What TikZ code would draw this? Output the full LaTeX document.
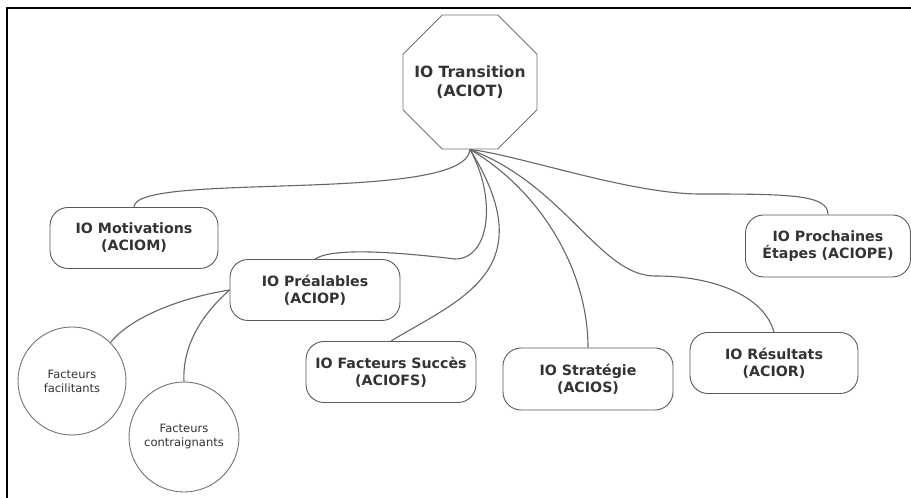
\documentclass[tikz,border=0pt]{standalone}
\usepackage{fontspec}
\setmainfont{DejaVu Sans}
\usetikzlibrary{shapes.geometric}

\begin{document}
\begin{tikzpicture}[x=1pt,y=1pt,
        ioblock/.style={draw=black!65, line width=0.9pt, fill=white, rounded corners=18pt,
            minimum width=168pt, minimum height=61pt, align=center, text=black!80,
            font=\fontsize{14.2}{17}\selectfont\bfseries},
        iotransition/.style={draw=black!55, line width=0.9pt, fill=white, regular polygon,
            regular polygon sides=8, minimum size=145pt, inner sep=0pt},
        iotexte/.style={align=center, text=black!80, font=\fontsize{15.5}{19}\selectfont\bfseries},
        facteur/.style={draw=black!55, line width=0.9pt, fill=white, circle, minimum size=108pt,
            inner sep=0pt, align=center, text=black!80, font=\fontsize{11.5}{14}\selectfont},
        lien/.style={draw=black!60, line width=1.1pt}]
    \useasboundingbox (0,0) rectangle (911,498);
    \draw[line width=1.6pt] (7,0) -- (7,490) -- (911,490);

    \node[iotransition] (t) at (470,416) {};
    \node[iotexte] (tl) at (t.center) {IO Transition\\(ACIOT)};
    \node[ioblock] (m) at (134,260) {IO Motivations\\(ACIOM)};
    \node[ioblock, minimum width=170pt] (p) at (315,208) {IO Préalables\\(ACIOP)};
    \node[ioblock, minimum width=170pt] (fs) at (391,126) {IO Facteurs Succès\\(ACIOFS)};
    \node[ioblock, minimum width=170pt, minimum height=62pt] (s) at (588,119) {IO Stratégie\\(ACIOS)};
    \node[ioblock] (r) at (774,135) {IO Résultats\\(ACIOR)};
    \node[ioblock, minimum width=165pt, minimum height=62pt] (pe) at (828,252) {IO Prochaines\\Étapes (ACIOPE)};
    \node[facteur] (ff) at (72,117) {Facteurs\\facilitants};
    \node[facteur, minimum size=110pt] (fc) at (184,61) {Facteurs\\contraignants};

    % branches from the transition
    \draw[lien] (t.south) .. controls +(-4,-55) and +(0,36) .. (m.north);
    \draw[lien] (t.south) .. controls +(27,-49) and +(35,0) .. (455,239)
        .. controls +(-75,9) and +(15,10) .. (p.north);
    \draw[lien] (t.south) .. controls +(75,-121) and +(69,42) .. (fs.north);
    \draw[lien] (t.south) .. controls +(70,-41) and +(0,78) .. (s.north);
    \draw[lien] (t.south) .. controls +(95,-36) and +(-55,0) .. (655,222)
        .. controls +(65,0) and +(-9,33) .. (r.north);
    \draw[lien] (t.south) .. controls +(50,-6) and +(-70,0) .. (700,304)
        .. controls +(90,0) and +(0,20) .. (pe.north);
    % facteurs
    \draw[lien] (p.west) .. controls +(-50,-8) and +(20,25) .. (ff.45);
    \draw[lien] (p.west) .. controls +(-25,-22) and +(-2,38) .. (fc.north);
\end{tikzpicture}
\end{document}
